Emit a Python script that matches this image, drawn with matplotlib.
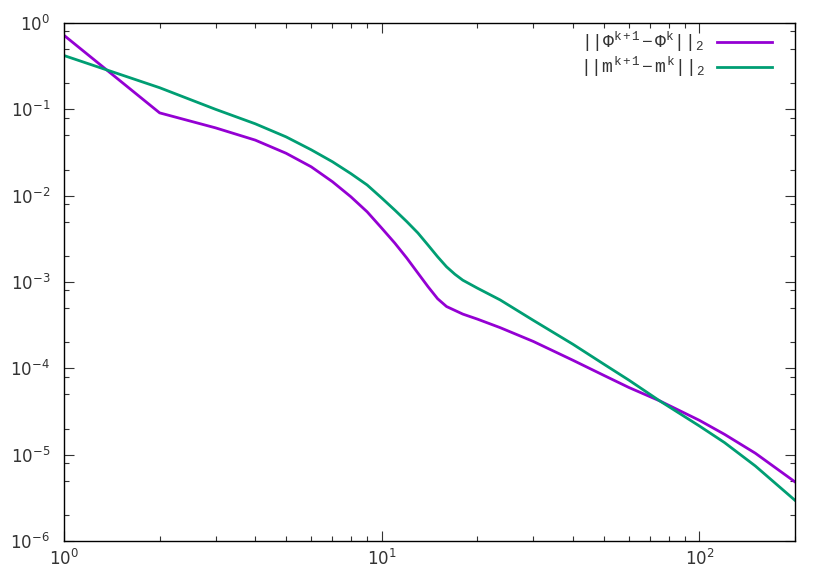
import numpy as np
import matplotlib
matplotlib.use('Agg')
import matplotlib.pyplot as plt
from matplotlib.ticker import LogLocator, NullFormatter

# iteration numbers and residual norms
iters_phi = [1, 2, 3, 4, 5, 6, 7, 8, 9, 10, 11, 12, 13, 14, 15, 16, 18,
             20, 23.6, 30, 40, 50, 60, 75, 100, 120, 150, 200]
res_phi = [0.72, 0.091, 0.061, 0.044, 0.031, 0.0216, 0.0145, 0.0097, 0.0065,
           0.00421, 0.00282, 0.00189, 0.00127, 0.00088, 0.00064, 0.00052,
           0.000425, 0.000372, 0.000296, 0.000205, 0.000124, 8.3e-5, 6.0e-5,
           4.2e-5, 2.5e-5, 1.72e-5, 1.04e-5, 4.84e-6]

iters_m = [1, 2, 3, 4, 5, 6, 7, 8, 9, 10, 11, 12, 13, 14, 15, 16, 17, 18,
           20, 23.6, 30, 40, 50, 60, 75, 100, 120, 150, 200]
res_m = [0.42, 0.178, 0.1, 0.068, 0.048, 0.034, 0.0247, 0.018, 0.0133,
         0.0094, 0.0068, 0.005, 0.0037, 0.00267, 0.00196, 0.0015, 0.00123,
         0.00105, 0.00085, 0.00062, 0.00036, 0.00019, 0.000112, 7.3e-5,
         4.2e-5, 2.15e-5, 1.38e-5, 7.4e-6, 2.96e-6]

labels = [r'$||\Phi^{k+1}-\Phi^{k}||_2$', r'$||m^{k+1}-m^{k}||_2$']
colors = ['#9400d3', '#009e73']

plt.rcParams['mathtext.rm'] = 'Liberation Mono'
plt.rcParams['mathtext.it'] = 'Liberation Mono'
plt.rcParams['mathtext.bf'] = 'Liberation Mono:bold'

fig = plt.figure(figsize=(8.3, 5.81), dpi=100)
ax = fig.add_axes([64 / 830, 1 - 541 / 581, 731 / 830, 518 / 581])

ax.plot(iters_phi, res_phi, color=colors[0], lw=2.0, label=labels[0])
ax.plot(iters_m, res_m, color=colors[1], lw=2.0, label=labels[1])

ax.set_xscale('log')
ax.set_yscale('log')
ax.set_xlim(1, 200)
ax.set_ylim(1e-6, 1)

ax.xaxis.set_minor_locator(LogLocator(base=10, subs=np.arange(2, 10)))
ax.yaxis.set_minor_locator(LogLocator(base=10, subs=[2, 5, 8]))
ax.xaxis.set_minor_formatter(NullFormatter())
ax.yaxis.set_minor_formatter(NullFormatter())

ax.tick_params(which='both', direction='in', top=True, right=True,
               labelsize=12, labelcolor='#333333', color='#333333')
ax.tick_params(which='major', length=7, width=0.8)
ax.tick_params(which='minor', length=3.5, width=0.8)
ax.tick_params(axis='x', which='major', pad=6)
ax.tick_params(axis='y', which='major', pad=10)
for s in ax.spines.values():
    s.set_linewidth(1.0)

leg = ax.legend(loc='upper right', frameon=False, markerfirst=False,
                handlelength=3.05, handletextpad=0.65, labelspacing=0.05,
                fontsize=13, borderaxespad=0.0, bbox_to_anchor=(0.978, 1.0))
for t in leg.get_texts():
    t.set_color('#333333')
    t.set_math_fontfamily('custom')

fig.savefig('out.png', dpi=100)
